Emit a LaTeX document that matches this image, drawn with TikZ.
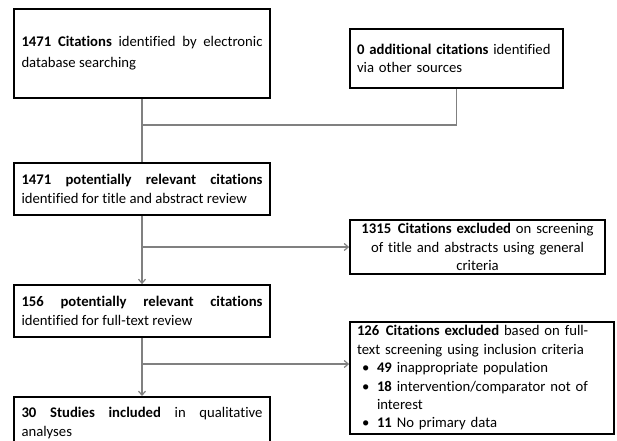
\documentclass[tikz,border=0pt]{standalone}
\usepackage{fontspec}
\setmainfont{Carlito}[Ligatures=NoCommon]
\usetikzlibrary{arrows.meta}
\hyphenpenalty=10000
% bullet line with hanging indent
\newcommand\bulitem[1]{\par\hangindent=20pt\hangafter=1\noindent\makebox[20pt][l]{\hspace{5pt}\textbullet}#1}
\tikzset{
  flowbox/.style={draw=black, line width=1.8pt, rectangle, inner xsep=7pt, inner ysep=1pt,
    font=\fontsize{14.7}{18.3}\selectfont},
  link/.style={draw=black!50, line width=1.2pt},
  arrowlink/.style={link, -{Straight Barb[length=4pt,width=7pt]}},
}
\begin{document}
\begin{tikzpicture}[x=1pt,y=-1pt]
\useasboundingbox (0,0) rectangle (617,440);
\begin{scope}
\clip (0,0) rectangle (617,440);
% identification
\node[flowbox, minimum width=256pt, minimum height=89pt, text width=241pt, align=justify,
  font=\fontsize{14.7}{21}\selectfont]
  (ident) at (142,53.5) {\textbf{1471 Citations} identified by electronic database searching};
\node[flowbox, minimum width=213pt, minimum height=59pt, text width=199pt, align=left]
  (other) at (456.5,58.5) {\textbf{0 additional citations} identified via other sources};
% screening
\node[flowbox, minimum width=256pt, minimum height=52pt, text width=241pt, align=justify]
  (screen) at (142,189) {\textbf{1471 potentially relevant citations} identified for title and abstract review};
\node[flowbox, minimum width=255pt, minimum height=54pt, text width=246pt, align=center,
  inner xsep=4pt, inner ysep=0pt, font=\fontsize{14.7}{18.4}\selectfont]
  (excl1) at (477.5,247) {\textbf{1315\hspace{0.45em}Citations excluded} on screening\\of title and abstracts using general\\criteria};
% eligibility
\node[flowbox, minimum width=256pt, minimum height=52pt, text width=241pt, align=justify]
  (full) at (142,311) {\textbf{156 potentially relevant citations} identified for full-text review};
\node[flowbox, minimum width=264pt, minimum height=112pt, text width=250pt, align=left,
  inner ysep=0pt, font=\fontsize{14.7}{18.4}\selectfont]
  (excl2) at (482,378) {\textbf{126\hspace{0.45em}Citations excluded} based on full-\\text screening using inclusion criteria
  \bulitem{\textbf{49} inappropriate population}
  \bulitem{\textbf{18} intervention/comparator not of interest}
  \bulitem{\textbf{11} No primary data}};
% included
\node[flowbox, minimum width=256pt, minimum height=52pt, text width=241pt, align=justify,
  anchor=north] (incl) at (142,396) {\textbf{30 Studies included} in qualitative analyses};
% connectors
\coordinate (join) at (ident.south |- 0,125);
\draw[link] (ident.south) -- (screen.north);
\draw[link] (other.south) |- (join);
\coordinate (split1) at (screen.south |- 0,247);
\draw[arrowlink] (screen.south) -- (full.north);
\draw[arrowlink] (split1) -- (split1 -| excl1.west);
\coordinate (split2) at (full.south |- 0,364);
\draw[arrowlink] (full.south) -- (incl.north);
\draw[arrowlink] (split2) -- (split2 -| excl2.west);
\end{scope}
\end{tikzpicture}
\end{document}
